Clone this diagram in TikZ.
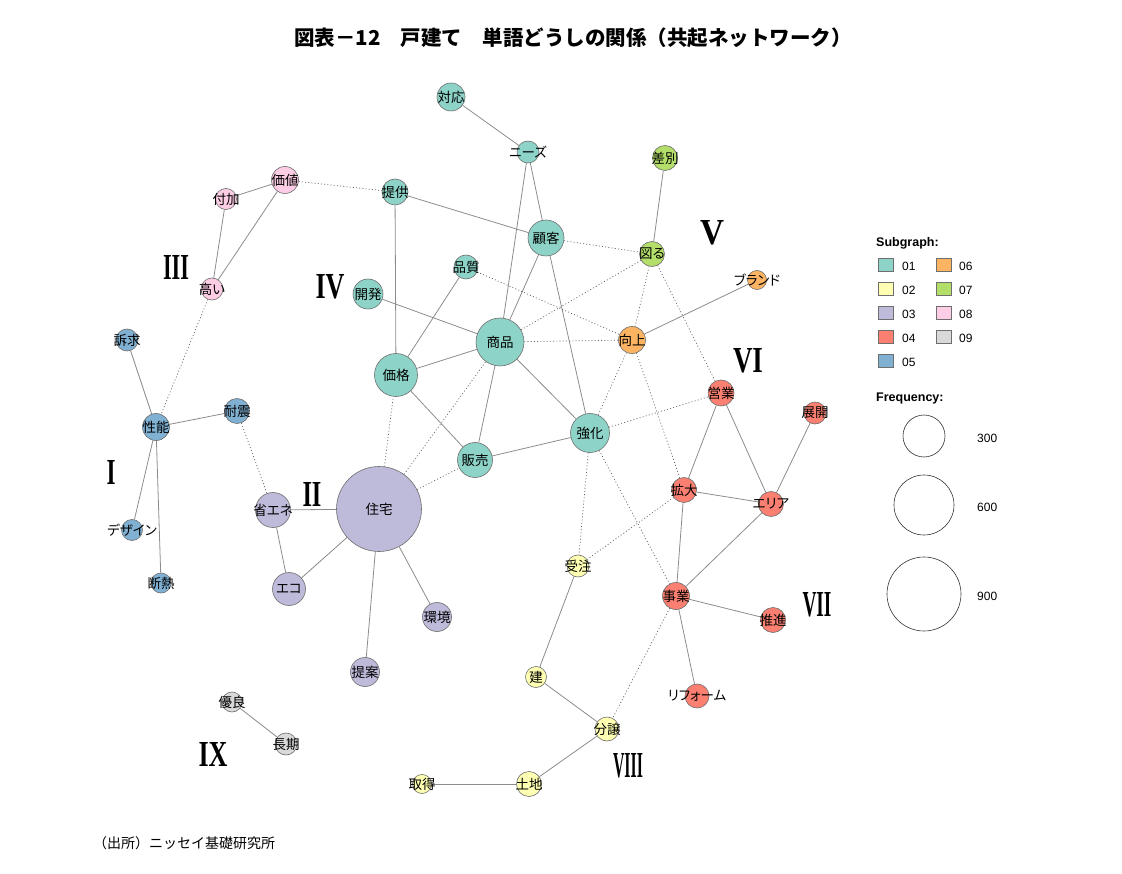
\documentclass[tikz,border=0pt]{standalone}
\usepackage{fontspec}
\setmainfont{Liberation Serif}
\setsansfont{Liberation Sans}
\newfontfamily\jp{Noto Sans CJK JP}
\newfontfamily\jpp[RawFeature=+palt]{Noto Sans CJK JP}
\usetikzlibrary{backgrounds}
\definecolor{c01}{HTML}{8DD3C7}
\definecolor{c02}{HTML}{FFFFB3}
\definecolor{c03}{HTML}{BEBADA}
\definecolor{c04}{HTML}{FB8072}
\definecolor{c05}{HTML}{80B1D3}
\definecolor{c06}{HTML}{FDB462}
\definecolor{c07}{HTML}{B3DE69}
\definecolor{c08}{HTML}{FCCDE5}
\definecolor{c09}{HTML}{D9D9D9}
\definecolor{bordc}{HTML}{6E6E6E}
\definecolor{edgec}{HTML}{8C8C8C}
\definecolor{dotc}{HTML}{606060}
\tikzset{
  wnode/.style={circle, draw=bordc, line width=0.6pt, inner sep=0pt},
  wlab/.style={font=\jpp\fontsize{13.5}{14}\selectfont, inner sep=0pt},
  solidedge/.style={draw=edgec, line width=0.8pt},
  dotedge/.style={draw=dotc, line width=0.7pt, dash pattern=on 1pt off 2.2pt},
  rnum/.style={font=\rmfamily\bfseries, inner sep=0pt},
  legtxt/.style={font=\sffamily\fontsize{12}{13}\selectfont, anchor=west, inner sep=0pt},
  leghead/.style={font=\sffamily\bfseries\fontsize{12.5}{14}\selectfont, anchor=west, inner sep=0pt},
  legsq/.style={draw=bordc, line width=0.6pt, minimum width=15pt, minimum height=13pt, inner sep=0pt},
  legcirc/.style={circle, draw=black!80, line width=0.6pt, inner sep=0pt}
}
\newcommand\wn[5]{\node[wnode, fill=#4, minimum size=#5pt, label={[wlab]center:#3}] (#1) at (#2) {};}
\newcommand\rn[4]{\node[rnum] (#1) at (#2) {\resizebox{#3pt}{24pt}{#4}};}
\begin{document}
\begin{tikzpicture}[x=1pt,y=-1pt]
\useasboundingbox (0,0) rectangle (1122,874);
% title
\node[font=\jp\bfseries\fontsize{20.5}{22}\selectfont, inner sep=0pt] (title) at (573,38) {図表－12　戸建て　単語どうしの関係（共起ネットワーク）};
% nodes
\wn{taiou}{451,97}{対応}{c01}{28}
\wn{needs}{528,152}{ニーズ}{c01}{22}
\wn{sabetsu}{665,158}{差別}{c07}{25}
\wn{kachi}{285,180}{価値}{c08}{27}
\wn{fuka}{226,199}{付加}{c08}{21}
\wn{teikyo}{395,192}{提供}{c01}{26}
\wn{kokyaku}{546,238}{顧客}{c01}{36}
\wn{hakaru}{652,254}{図る}{c07}{25}
\wn{takai}{212,289}{高い}{c08}{22}
\wn{hinshitsu}{466,267}{品質}{c01}{24}
\wn{kaihatsu}{368,294}{開発}{c01}{30}
\wn{brand}{757,280}{ブランド}{c06}{19}
\wn{shohin}{500,342}{商品}{c01}{48}
\wn{kojo}{632,340}{向上}{c06}{27}
\wn{sokyu}{127,340}{訴求}{c05}{22}
\wn{kakaku}{396,375}{価格}{c01}{43}
\wn{eigyo}{721,393}{営業}{c04}{26}
\wn{tenkai}{815,413}{展開}{c04}{22}
\wn{seino}{156,427}{性能}{c05}{27}
\wn{taishin}{237,411}{耐震}{c05}{25}
\wn{kyoka}{590,433}{強化}{c01}{39}
\wn{hanbai}{475,460}{販売}{c01}{35}
\wn{kakudai}{684,490}{拡大}{c04}{25}
\wn{area}{771,504}{エリア}{c04}{25}
\wn{jutaku}{379,509}{住宅}{c03}{85}
\wn{shoene}{273,510}{省エネ}{c03}{35}
\wn{design}{132,530}{デザイン}{c05}{21}
\wn{juchu}{578,566}{受注}{c02}{22}
\wn{dannetsu}{161,583}{断熱}{c05}{20}
\wn{eco}{289,589}{エコ}{c03}{33}
\wn{jigyo}{676,596}{事業}{c04}{27}
\wn{suishin}{773,620}{推進}{c04}{25}
\wn{kankyo}{437,617}{環境}{c03}{29}
\wn{teian}{365,672}{提案}{c03}{29}
\wn{tate}{536,677}{建}{c02}{21}
\wn{reform}{697,696}{リフォーム}{c04}{24}
\wn{yuryo}{232,702}{優良}{c09}{20}
\wn{choki}{286,744}{長期}{c09}{22}
\wn{bunjo}{607,729}{分譲}{c02}{24}
\wn{shutoku}{422,784}{取得}{c02}{19}
\wn{tochi}{529,784}{土地}{c02}{25}
% edges
\begin{scope}[on background layer]
\draw[solidedge] (taiou) -- (needs);
\draw[solidedge] (needs) -- (kokyaku);
\draw[solidedge] (needs) -- (shohin);
\draw[solidedge] (teikyo) -- (kokyaku);
\draw[solidedge] (teikyo) -- (kakaku);
\draw[solidedge] (kachi) -- (fuka);
\draw[solidedge] (kachi) -- (takai);
\draw[solidedge] (fuka) -- (takai);
\draw[solidedge] (sabetsu) -- (hakaru);
\draw[solidedge] (kokyaku) -- (shohin);
\draw[solidedge] (kokyaku) -- (kyoka);
\draw[solidedge] (hinshitsu) -- (kakaku);
\draw[solidedge] (kaihatsu) -- (shohin);
\draw[solidedge] (shohin) -- (kakaku);
\draw[solidedge] (shohin) -- (hanbai);
\draw[solidedge] (shohin) -- (kyoka);
\draw[solidedge] (kakaku) -- (hanbai);
\draw[solidedge] (hanbai) -- (kyoka);
\draw[solidedge] (kojo) -- (brand);
\draw[solidedge] (sokyu) -- (seino);
\draw[solidedge] (seino) -- (taishin);
\draw[solidedge] (seino) -- (design);
\draw[solidedge] (seino) -- (dannetsu);
\draw[solidedge] (jutaku) -- (shoene);
\draw[solidedge] (jutaku) -- (eco);
\draw[solidedge] (jutaku) -- (kankyo);
\draw[solidedge] (jutaku) -- (teian);
\draw[solidedge] (shoene) -- (eco);
\draw[solidedge] (eigyo) -- (kakudai);
\draw[solidedge] (eigyo) -- (area);
\draw[solidedge] (tenkai) -- (area);
\draw[solidedge] (kakudai) -- (area);
\draw[solidedge] (kakudai) -- (jigyo);
\draw[solidedge] (area) -- (jigyo);
\draw[solidedge] (jigyo) -- (suishin);
\draw[solidedge] (jigyo) -- (reform);
\draw[solidedge] (juchu) -- (tate);
\draw[solidedge] (tate) -- (bunjo);
\draw[solidedge] (bunjo) -- (tochi);
\draw[solidedge] (tochi) -- (shutoku);
\draw[solidedge] (yuryo) -- (choki);
% dotted
\draw[dotedge] (kachi) -- (teikyo);
\draw[dotedge] (takai) -- (seino);
\draw[dotedge] (taishin) -- (shoene);
\draw[dotedge] (kokyaku) -- (hakaru);
\draw[dotedge] (hinshitsu) -- (kojo);
\draw[dotedge] (shohin) -- (kojo);
\draw[dotedge] (shohin) -- (hakaru);
\draw[dotedge] (hakaru) -- (kojo);
\draw[dotedge] (hakaru) -- (eigyo);
\draw[dotedge] (kojo) -- (kyoka);
\draw[dotedge] (kojo) -- (kakudai);
\draw[dotedge] (kyoka) -- (eigyo);
\draw[dotedge] (kyoka) -- (juchu);
\draw[dotedge] (kyoka) -- (jigyo);
\draw[dotedge] (kakudai) -- (juchu);
\draw[dotedge] (jigyo) -- (bunjo);
\draw[dotedge] (jutaku) -- (kakaku);
\draw[dotedge] (jutaku) -- (shohin);
\draw[dotedge] (jutaku) -- (hanbai);
\end{scope}
% roman numerals
\rn{r1}{111,472}{9}{I}
\rn{r2}{312,494}{19}{II}
\rn{r3}{176,268}{26}{III}
\rn{r4}{330,287}{29}{IV}
\rn{r5}{712,233}{24}{V}
\rn{r6}{748,361}{30}{VI}
\rn{r7}{817,605}{29}{VII}
\rn{r8}{628,766}{30}{VIII}
\rn{r9}{213,754}{29}{IX}
% legend
\node[leghead] (sgh) at (876,243) {Subgraph:};
\node[legsq, fill=c01] (s01) at (886,265) {};
\node[legsq, fill=c02] (s02) at (886,289) {};
\node[legsq, fill=c03] (s03) at (886,313) {};
\node[legsq, fill=c04] (s04) at (886,337) {};
\node[legsq, fill=c05] (s05) at (886,361) {};
\node[legsq, fill=c06] (s06) at (944,265) {};
\node[legsq, fill=c07] (s07) at (944,289) {};
\node[legsq, fill=c08] (s08) at (944,313) {};
\node[legsq, fill=c09] (s09) at (944,337) {};
\node[legtxt] at (902,266) {01};
\node[legtxt] at (902,290) {02};
\node[legtxt] at (902,314) {03};
\node[legtxt] at (902,338) {04};
\node[legtxt] at (902,362) {05};
\node[legtxt] at (959,266) {06};
\node[legtxt] at (959,290) {07};
\node[legtxt] at (959,314) {08};
\node[legtxt] at (959,338) {09};
\node[leghead] (fqh) at (876,398) {Frequency:};
\node[legcirc, minimum size=42pt] (f300) at (924,436) {};
\node[legcirc, minimum size=60pt] (f600) at (924,505) {};
\node[legcirc, minimum size=74pt] (f900) at (924,594) {};
\node[legtxt] at (977,438) {300};
\node[legtxt] at (977,507) {600};
\node[legtxt] at (977,596) {900};
% source
\node[font=\jp\fontsize{14}{15}\selectfont, anchor=west, inner sep=0pt] (src) at (93,843) {（出所）ニッセイ基礎研究所};
\end{tikzpicture}
\end{document}
